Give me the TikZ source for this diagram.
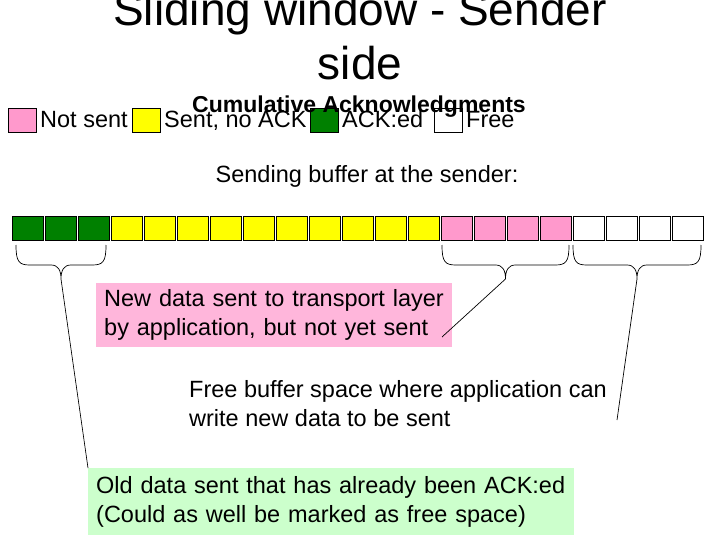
\documentclass[tikz,border=0pt]{standalone}
\usepackage{fontspec}
\setmainfont{Liberation Sans}
\definecolor{cpink}{HTML}{FF99CC}
\definecolor{cyellow}{HTML}{FFFF00}
\definecolor{cgreen}{HTML}{008000}
\definecolor{boxpink}{HTML}{FFB6DB}
\definecolor{boxgreen}{HTML}{CCFFCC}
\newcommand\mybrace[3]{%
  \pgfmathsetmacro\xm{(#1+#2)/2}%
  \draw[braceline] (#1,245) .. controls (#1,262) and (#1+3,265) .. (#1+14,265)
    -- (\xm-10,265) .. controls (\xm-3,265) and (\xm,270) .. (\xm,279) coordinate (#3)
    .. controls (\xm,270) and (\xm+3,265) .. (\xm+10,265)
    -- (#2-14,265) .. controls (#2-3,265) and (#2,262) .. (#2,245);
}
\tikzset{
  cell/.style={draw=black, line width=0.8pt, minimum width=31pt, minimum height=24pt, inner sep=0pt, anchor=north west},
  legsq/.style={draw=black, line width=0.8pt, minimum width=28pt, minimum height=24pt, inner sep=0pt, anchor=north west},
  legtxt/.style={anchor=base west, inner sep=0pt, font=\fontsize{23.5}{29}\selectfont},
  body/.style={align=left, inner sep=0pt, font=\fontsize{23.5}{29}\selectfont},
  braceline/.style={draw=black, line width=0.7pt},
  conn/.style={draw=black, line width=0.7pt},
}
\begin{document}
\begin{tikzpicture}[x=1pt,y=-1pt]
\useasboundingbox (0,0) rectangle (720,540);
% title
\node[align=center, inner sep=0pt, anchor=base, font=\fontsize{46}{54}\selectfont] (title) at (360,80) {Sliding window - Sender\\side};
% legend
\node[legsq, fill=cpink] (l1) at (8,108) {};
\node[legtxt] (t1) at (40,128) {Not sent};
\node[legsq, fill=cyellow] (l2) at (132,108) {};
\node[legtxt] (t2) at (164,128) {Sent, no ACK};
\node[legsq, fill=cgreen] (l3) at (310,108) {};
\node[legtxt] (t3) at (342,128) {ACK:ed};
\node[legsq, fill=white] (l4) at (434,108) {};
\node[legtxt] (t4) at (466,128) {Free};
\node[anchor=base, inner sep=0pt, font=\bfseries\fontsize{23}{28}\selectfont] (cum) at (359,113) {Cumulative Acknowledgments};
% buffer
\node[anchor=base, inner sep=0pt, font=\fontsize{23.5}{29}\selectfont] (sb) at (367,183) {Sending buffer at the sender:};
\foreach \i in {1,...,21}{
  \ifnum\i<4 \def\cc{cgreen}\else\ifnum\i<14 \def\cc{cyellow}\else\ifnum\i<18 \def\cc{cpink}\else\def\cc{white}\fi\fi\fi
  \node[cell, fill=\cc] (c\i) at ({12+33*(\i-1)},216) {};
}
% braces
\mybrace{16}{106}{tipA}
\mybrace{442}{569}{tipB}
\mybrace{573}{701}{tipC}
% text boxes
\node[body, fill=boxpink, minimum width=356pt, minimum height=64pt, text width=348pt, anchor=north west, inner xsep=4pt] (pbox) at (96,283) {\hspace*{4pt}New data sent to transport layer\\\hspace*{4pt}by application, but not yet sent};
\node[body, anchor=north west] (ftxt) at (189,380) {Free buffer space where application can\\write new data to be sent};
\node[body, fill=boxgreen, minimum width=486pt, minimum height=67pt, text width=480pt, anchor=north west, inner xsep=3pt] (gbox) at (88,468) {\hspace*{5pt}Old data sent that has already been ACK:ed\\\hspace*{5pt}(Could as well be marked as free space)};
% connectors
\coordinate (pend) at (442,337);
\coordinate (fend) at (617,420);
\draw[conn] (tipA) -- (gbox.north west);
\draw[conn] (tipB) -- (pend);
\draw[conn] (tipC) -- (fend);
\end{tikzpicture}
\end{document}
